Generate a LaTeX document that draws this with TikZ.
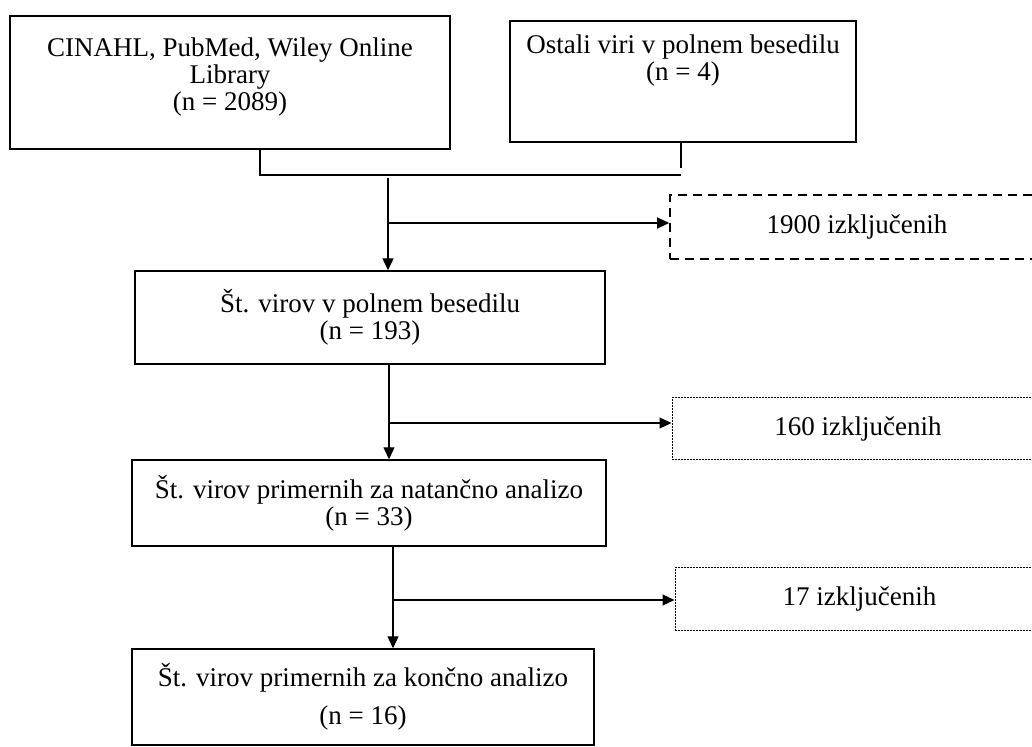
\documentclass[tikz,border=0pt]{standalone}
\usepackage{fontspec}
\setmainfont{Liberation Serif}
\usetikzlibrary{arrows.meta}
\tikzset{
  box/.style={draw,line width=.7pt,inner sep=0pt,align=center,
    font=\fontsize{13.5}{13.5}\selectfont},
  dashbox/.style={box,dash pattern=on 4.5pt off 3pt,line width=.8pt},
  dotbox/.style={box,dash pattern=on .8pt off .7pt,line width=.5pt},
  line/.style={line width=.6pt},
  arr/.style={line,-{Triangle[length=6pt,width=5.5pt]}}
}
\begin{document}
\begin{tikzpicture}[x=.5pt,y=-.5pt]
\clip (0,0) rectangle (1032,747);
\fill[white] (0,0) rectangle (1032,747);
% boxes
\node[box,minimum width=220pt,minimum height=66.5pt] (src) at (230,82.5) {CINAHL, PubMed, Wiley Online\\Library\\(n = 2089)\\[-5.5pt]};
\node[box,minimum width=173pt,minimum height=60.5pt] (other) at (683,81.5) {Ostali viri v polnem besedilu\\(n = 4)\\[10.5pt]};
\node[box,minimum width=235pt,minimum height=46.5pt] (full) at (370,317.5) {Št. virov v polnem besedilu\\(n = 193)};
\node[box,minimum width=237pt,minimum height=43pt] (fit) at (369,503) {Št. virov primernih za natančno analizo\\(n = 33)};
\node[box,minimum width=231pt,minimum height=48pt] (final) at (363,697) {Št. virov primernih za končno analizo\\[5.5pt](n = 16)};
\node[dashbox,minimum width=187pt,minimum height=32pt] (ex1) at (857,227) {1900 izključenih};
\node[dotbox,minimum width=186pt,minimum height=31pt] (ex2) at (858,429) {160 izključenih};
\node[dotbox,minimum width=184.5pt,minimum height=31pt] (ex3) at (859.5,599) {17 izključenih};
% connectors
\coordinate (ja) at (260,175);
\coordinate (jb) at (681,168);
\coordinate (m1) at (388,178);
\coordinate (b1) at (388,223);
\coordinate (b2) at (389,423);
\coordinate (b3) at (393,600);
\draw[line] (ja |- src.south) -- (ja) -- (ja -| jb);
\draw[line] (jb |- other.south) -- (jb);
\draw[arr] (m1) -- (m1 |- full.north);
\draw[arr] (b1) -- (b1 -| ex1.west);
\draw[arr] (full.south -| b2) -- (fit.north -| b2);
\draw[arr] (b2) -- (b2 -| ex2.west);
\draw[arr] (fit.south -| b3) -- (final.north -| b3);
\draw[arr] (b3) -- (b3 -| ex3.west);
\end{tikzpicture}
\end{document}
